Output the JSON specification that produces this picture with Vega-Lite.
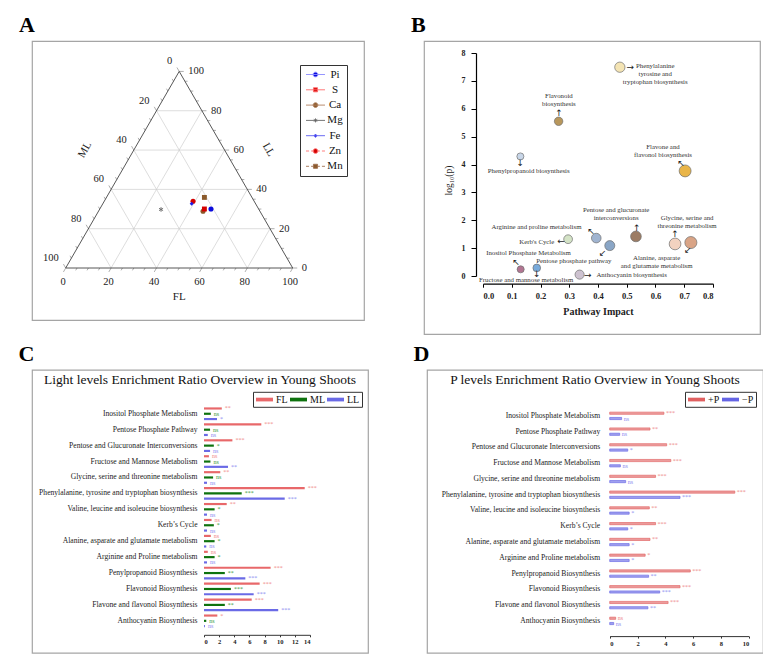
{
  "$schema": "https://vega.github.io/schema/vega-lite/v6.json",
  "padding": {"left": 18, "top": 12, "right": 0, "bottom": 0},
  "background": "white",
  "config": {
    "view": {"stroke": "#a5a5a5", "strokeWidth": 1.2},
    "axis": {"grid": false, "labelOverlap": false},
    "font": "Liberation Serif"
  },
  "spacing": 6.8,
  "resolve": {
    "scale": {"color": "independent", "fill": "independent", "stroke": "independent", "shape": "independent", "size": "independent"},
    "legend": {"color": "independent", "fill": "independent", "stroke": "independent", "shape": "independent", "size": "independent"}
  },
  "vconcat": [
    {
      "spacing": 45,
      "resolve": {
        "scale": {"color": "independent", "fill": "independent", "stroke": "independent", "shape": "independent", "size": "independent"},
        "legend": {"color": "independent", "fill": "independent", "stroke": "independent", "shape": "independent", "size": "independent"}
      },
      "hconcat": [
        {
          "title": {"text": "A", "anchor": "start", "frame": "group", "dx": -13, "offset": -12.5, "baseline": "alphabetic", "font": "Liberation Serif", "fontSize": 22, "fontWeight": "bold", "color": "#000"},
          "width": 332,
          "height": 279,
          "layer": [
            {
              "data": {"name": "gridA"},
              "mark": {"type": "rule", "color": "#cfcfcf", "strokeWidth": 0.7},
              "encoding": {
                "x": {"field": "x", "type": "quantitative", "scale": {"domain": [-14.85, 131.41], "nice": false, "zero": false}, "axis": null},
                "y": {"field": "y", "type": "quantitative", "scale": {"domain": [-22.9, 100], "nice": false, "zero": false}, "axis": null},
                "x2": {"field": "x2"},
                "y2": {"field": "y2"}
              }
            },
            {
              "data": {"name": "ticksA"},
              "mark": {"type": "rule", "color": "#777777", "strokeWidth": 0.6},
              "encoding": {
                "x": {"field": "x", "type": "quantitative"},
                "y": {"field": "y", "type": "quantitative"},
                "x2": {"field": "x2"},
                "y2": {"field": "y2"}
              }
            },
            {
              "data": {"name": "edgesA"},
              "mark": {"type": "rule", "color": "#444444", "strokeWidth": 0.9},
              "encoding": {
                "x": {"field": "x", "type": "quantitative"},
                "y": {"field": "y", "type": "quantitative"},
                "x2": {"field": "x2"},
                "y2": {"field": "y2"}
              }
            },
            {
              "data": {"name": "botA"},
              "mark": {"type": "text", "dx": -2.5, "dy": 14, "align": "center", "baseline": "middle", "font": "Liberation Serif", "fontSize": 10.5, "color": "#222"},
              "encoding": {
                "x": {"field": "x", "type": "quantitative"},
                "y": {"field": "y", "type": "quantitative"},
                "text": {"field": "t", "type": "nominal"}
              }
            },
            {
              "data": {"name": "leftA"},
              "mark": {"type": "text", "dx": -7, "dy": -10, "align": "right", "baseline": "middle", "font": "Liberation Serif", "fontSize": 10.5, "color": "#222"},
              "encoding": {
                "x": {"field": "x", "type": "quantitative"},
                "y": {"field": "y", "type": "quantitative"},
                "text": {"field": "t", "type": "nominal"}
              }
            },
            {
              "data": {"name": "rightA"},
              "mark": {"type": "text", "dx": 9, "dy": 0, "align": "left", "baseline": "middle", "font": "Liberation Serif", "fontSize": 10.5, "color": "#222"},
              "encoding": {
                "x": {"field": "x", "type": "quantitative"},
                "y": {"field": "y", "type": "quantitative"},
                "text": {"field": "t", "type": "nominal"}
              }
            },
            {
              "data": {"values": [{}]},
              "mark": {"type": "text", "text": "FL", "align": "center", "baseline": "middle", "font": "Liberation Serif", "fontSize": 11, "color": "#222"},
              "encoding": {"x": {"datum": 50}, "y": {"datum": -12.9}}
            },
            {
              "data": {"values": [{}]},
              "mark": {"type": "text", "text": "ML", "angle": -60, "align": "center", "baseline": "middle", "font": "Liberation Serif", "fontSize": 11, "color": "#222"},
              "encoding": {"x": {"datum": 8.5}, "y": {"datum": 52.1}}
            },
            {
              "data": {"values": [{}]},
              "mark": {"type": "text", "text": "LL", "angle": 60, "align": "center", "baseline": "middle", "font": "Liberation Serif", "fontSize": 11, "color": "#222"},
              "encoding": {"x": {"datum": 89.3}, "y": {"datum": 52.1}}
            },
            {
              "data": {"name": "ptsA"},
              "transform": [{"filter": {"field": "el", "oneOf": ["Pi", "Ca", "Zn"]}}],
              "mark": {"type": "point", "shape": "circle", "filled": true, "opacity": 1, "size": 26},
              "encoding": {
                "x": {"field": "x", "type": "quantitative"},
                "y": {"field": "y", "type": "quantitative"},
                "color": {
                  "field": "el", "type": "nominal",
                  "scale": {"domain": ["Pi", "S", "Ca", "Mg", "Fe", "Zn", "Mn"], "range": ["#0b0bdd", "#d40000", "#8b5a2b", "#666666", "#1a1ae6", "#d40000", "#8b5a2b"]},
                  "legend": {
                    "title": null, "orient": "none", "legendX": 268, "legendY": 24,
                    "strokeColor": "#333333", "fillColor": "white", "padding": 4,
                    "labelFont": "Liberation Serif", "labelFontSize": 11, "labelColor": "#111", "labelAlign": "center",
                    "symbolSize": 46, "symbolOffset": 6, "labelOffset": 14, "rowPadding": 3.3,
                    "symbolOpacity": 1,
                    "encode": {
                      "symbols": {
                        "update": {
                          "shape": {"signal": "{'Pi':'M-2.8,0H2.8M0.7,0A0.7,0.7,0,1,1,-0.7,0A0.7,0.7,0,1,1,0.7,0Z','S':'M-2.8,0H2.8M-0.6,-0.6H0.6V0.6H-0.6Z','Ca':'M-2.8,0H2.8M0.7,0A0.7,0.7,0,1,1,-0.7,0A0.7,0.7,0,1,1,0.7,0Z','Mg':'M-2.8,0H2.8M0,-0.6V0.6M-0.52,-0.3L0.52,0.3M-0.52,0.3L0.52,-0.3','Fe':'M-2.8,0H2.8M0,-0.5L0.4,0L0,0.5L-0.4,0Z','Zn':'M-2.8,0H-1.9M-1.3,0H-0.4M0.4,0H1.3M1.9,0H2.8M0.7,0A0.7,0.7,0,1,1,-0.7,0A0.7,0.7,0,1,1,0.7,0Z','Mn':'M-2.8,0H-1.9M-1.3,0H-0.4M0.4,0H1.3M1.9,0H2.8M-0.6,-0.6H0.6V0.6H-0.6Z'}[datum.value]"},
                          "stroke": {"signal": "{'Pi':'#8a8aff','S':'#ff6a6a','Ca':'#b08060','Mg':'#666666','Fe':'#5a5af0','Zn':'#ff7070','Mn':'#a07050'}[datum.value]"},
                          "strokeWidth": {"value": 0.9}
                        }
                      }
                    }
                  }
                }
              }
            },
            {
              "data": {"name": "ptsA"},
              "transform": [{"filter": {"field": "el", "oneOf": ["S", "Mn"]}}],
              "mark": {"type": "point", "shape": "square", "filled": true, "opacity": 1, "size": 24},
              "encoding": {
                "x": {"field": "x", "type": "quantitative"},
                "y": {"field": "y", "type": "quantitative"},
                "color": {"field": "el", "type": "nominal"}
              }
            },
            {
              "data": {"name": "ptsA"},
              "transform": [{"filter": {"field": "el", "equal": "Mg"}}],
              "mark": {"type": "point", "shape": "M0,-1V1M-0.87,-0.5L0.87,0.5M-0.87,0.5L0.87,-0.5", "filled": true, "opacity": 1, "size": 22, "stroke": "#666666", "strokeWidth": 0.9},
              "encoding": {
                "x": {"field": "x", "type": "quantitative"},
                "y": {"field": "y", "type": "quantitative"},
                "color": {"field": "el", "type": "nominal"}
              }
            },
            {
              "data": {"name": "ptsA"},
              "transform": [{"filter": {"field": "el", "equal": "Fe"}}],
              "mark": {"type": "point", "shape": "diamond", "filled": true, "opacity": 1, "size": 16},
              "encoding": {
                "x": {"field": "x", "type": "quantitative"},
                "y": {"field": "y", "type": "quantitative"},
                "color": {"field": "el", "type": "nominal"}
              }
            }
          ]
        },
        {
          "title": {"text": "B", "anchor": "start", "frame": "group", "dx": -13, "offset": -12.5, "baseline": "alphabetic", "font": "Liberation Serif", "fontSize": 22, "fontWeight": "bold", "color": "#000"},
          "width": 336,
          "height": 293,
          "layer": [
            {
              "data": {"name": "ptsB"},
              "mark": {"type": "point", "filled": true, "opacity": 1, "stroke": "#707070", "strokeWidth": 0.7},
              "encoding": {
                "x": {
                  "field": "impact", "type": "quantitative",
                  "scale": {"domain": [0, 0.8], "range": [59, 289], "nice": false, "zero": false},
                  "axis": {"values": [0, 0.1, 0.2, 0.3, 0.4, 0.5, 0.6, 0.7, 0.8], "format": ".1f", "offset": -50.3, "labelOverlap": false, "domainColor": "#000", "domainWidth": 1.2, "tickColor": "#000", "tickSize": 3.5, "labelFont": "Liberation Serif", "labelFontSize": 8.5, "labelFontWeight": "bold", "labelColor": "#222", "labelPadding": 4, "title": "Pathway Impact", "titleFont": "Liberation Serif", "titleFontSize": 10, "titleFontWeight": "bold", "titleColor": "#222", "titlePadding": 7}
                },
                "y": {
                  "field": "logp", "type": "quantitative",
                  "scale": {"domain": [0, 8], "range": [235, 12], "nice": false, "zero": false},
                  "axis": {"values": [0, 1, 2, 3, 4, 5, 6, 7, 8], "tickCount": 9, "format": "d", "offset": -52, "labelOverlap": false, "domainColor": "#000", "domainWidth": 1.2, "tickColor": "#000", "tickSize": 5, "labelAlign": "right", "labelBaseline": "middle", "labelPadding": 6, "labelFont": "Liberation Serif", "labelFontSize": 8, "labelFontWeight": "bold", "labelColor": "#222", "title": "log₁₀(p)", "titleFont": "Liberation Serif", "titleFontSize": 9.5, "titleFontWeight": "normal", "titleColor": "#222", "titlePadding": 8, "titleY": 139}
                },
                "size": {"field": "impact", "type": "quantitative", "scale": {"domain": [0.1, 0.75], "range": [45, 150]}, "legend": null},
                "color": {
                  "field": "pathway", "type": "nominal",
                  "scale": {
                    "domain": ["Phenylalanine, tyrosine and tryptophan biosynthesis", "Flavonoid biosynthesis", "Phenylpropanoid biosynthesis", "Flavone and flavonol biosynthesis", "Pentose and glucuronate interconversions", "Glycine, serine and threonine metabolism", "Alanine, asparate and glutamate metabolism", "Arginine and proline metabolism", "Pentose phosphate pathway", "Kerb's Cycle", "Inositol Phosphate Metabolism", "Fructose and mannose metabolism", "Anthocyanin biosynthesis"],
                    "range": ["#f4e4b4", "#b8975c", "#c8d6e8", "#e9b548", "#9c7c64", "#f2d2c0", "#d9a486", "#a0b4d0", "#8aa6c6", "#d4e3c6", "#b27592", "#78aadb", "#cdc2d0"]
                  },
                  "legend": null
                }
              }
            },
            {
              "data": {"name": "labB"},
              "mark": {"type": "text", "lineBreak": "\n", "lineHeight": 8, "font": "Liberation Serif", "fontSize": 6.8, "color": "#333", "align": "center", "baseline": "middle"},
              "encoding": {
                "x": {"field": "lx", "type": "quantitative"},
                "y": {"field": "ly", "type": "quantitative"},
                "text": {"field": "label", "type": "nominal"}
              }
            },
            {
              "data": {"name": "arrB"},
              "mark": {"type": "text", "font": "DejaVu Sans", "fontSize": 9, "color": "#222", "align": "center", "baseline": "middle"},
              "encoding": {
                "x": {"field": "ax", "type": "quantitative"},
                "y": {"field": "ay", "type": "quantitative"},
                "text": {"field": "arrow", "type": "nominal"}
              }
            }
          ]
        }
      ]
    },
    {
      "spacing": 44,
      "resolve": {
        "scale": {"color": "independent", "fill": "independent", "stroke": "independent", "shape": "independent", "size": "independent"},
        "legend": {"color": "independent", "fill": "independent", "stroke": "independent", "shape": "independent", "size": "independent"}
      },
      "hconcat": [
        {
          "title": {"text": "C", "anchor": "start", "dx": -13, "offset": -13.3, "baseline": "alphabetic", "font": "Liberation Serif", "fontSize": 22, "fontWeight": "bold", "color": "#000"},
          "vconcat": [
            {
              "title": {"text": "Light levels Enrichment Ratio Overview in Young Shoots", "anchor": "middle", "frame": "group", "offset": 0, "dy": 27.2, "baseline": "alphabetic", "font": "Liberation Serif", "fontSize": 13.5, "fontWeight": "normal", "color": "#111"},
              "width": 336,
              "height": 283,
              "data": {"name": "dataC"},
              "layer": [
                {
                  "mark": {"type": "bar"},
                  "encoding": {
                    "y": {"field": "p", "type": "nominal", "sort": ["Inositol Phosphate Metabolism", "Pentose Phosphate Pathway", "Pentose and Glucuronate Interconversions", "Fructose and Mannose Metabolism", "Glycine, serine and threonine metabolism", "Phenylalanine, tyrosine and tryptophan biosynthesis", "Valine, leucine and isoleucine biosynthesis", "Kerb’s Cycle", "Alanine, asparate and glutamate metabolism", "Arginine and Proline metabolism", "Penylpropanoid Biosynthesis", "Flavonoid Biosynthesis", "Flavone and flavonol Biosynthesis", "Anthocyanin Biosynthesis"], "scale": {"range": [36, 259], "paddingInner": 0, "paddingOuter": 0}, "axis": {"orient": "left", "offset": -172, "domain": false, "ticks": false, "labelPadding": 7, "labelFont": "Liberation Serif", "labelFontSize": 7.6, "labelColor": "#222", "labelLimit": 400, "title": null}},
                    "yOffset": {"field": "s", "type": "nominal", "sort": ["FL", "ML", "LL"], "scale": {"paddingInner": 0.18, "paddingOuter": 0.6}},
                    "x": {"field": "v", "type": "quantitative", "scale": {"domain": [0, 14], "range": [172, 278], "nice": false, "zero": false}, "axis": {"values": [0, 2, 4, 6, 8, 10, 12, 14], "offset": -18, "labelOverlap": false, "domainColor": "#333", "tickColor": "#333", "tickSize": 2, "labelFont": "Liberation Serif", "labelFontSize": 6.5, "labelFontWeight": "bold", "labelColor": "#222", "labelPadding": 2, "title": null}},
                    "color": {
                      "field": "s", "type": "nominal",
                      "scale": {"domain": ["FL", "ML", "LL"], "range": ["#e8686a", "#0e720e", "#6a6ae6"]},
                      "legend": {"title": null, "orient": "none", "legendX": 221, "legendY": 22, "direction": "horizontal", "strokeColor": "#333", "fillColor": "white", "padding": 2, "symbolType": "M-1.6,-0.35H1.6V0.35H-1.6Z", "symbolSize": 113, "symbolStrokeWidth": 0, "symbolOffset": 4, "labelOffset": 6, "columnPadding": 1, "labelFont": "Liberation Serif", "labelFontSize": 10, "labelColor": "#111"}
                    }
                  }
                },
                {
                  "mark": {"type": "text", "align": "left", "baseline": "middle", "dx": 3, "font": "Liberation Serif", "fontSize": 6},
                  "encoding": {
                    "y": {"field": "p", "type": "nominal", "sort": ["Inositol Phosphate Metabolism", "Pentose Phosphate Pathway", "Pentose and Glucuronate Interconversions", "Fructose and Mannose Metabolism", "Glycine, serine and threonine metabolism", "Phenylalanine, tyrosine and tryptophan biosynthesis", "Valine, leucine and isoleucine biosynthesis", "Kerb’s Cycle", "Alanine, asparate and glutamate metabolism", "Arginine and Proline metabolism", "Penylpropanoid Biosynthesis", "Flavonoid Biosynthesis", "Flavone and flavonol Biosynthesis", "Anthocyanin Biosynthesis"]},
                    "yOffset": {"field": "s", "type": "nominal", "sort": ["FL", "ML", "LL"]},
                    "x": {"field": "v", "type": "quantitative"},
                    "text": {"field": "sig", "type": "nominal"},
                    "fill": {"field": "s", "type": "nominal", "scale": {"domain": ["FL", "ML", "LL"], "range": ["#f08a8a", "#3c9a3c", "#8a8af0"]}, "legend": null}
                  }
                }
              ]
            }
          ]
        },
        {
          "title": {"text": "D", "anchor": "start", "dx": -13, "offset": -13.3, "baseline": "alphabetic", "font": "Liberation Serif", "fontSize": 22, "fontWeight": "bold", "color": "#000"},
          "vconcat": [
            {
              "title": {"text": "P levels Enrichment Ratio Overview in Young Shoots", "anchor": "middle", "frame": "group", "offset": 0, "dy": 27.2, "baseline": "alphabetic", "font": "Liberation Serif", "fontSize": 13.5, "fontWeight": "normal", "color": "#111"},
              "width": 336,
              "height": 283,
              "data": {"name": "dataD"},
              "layer": [
                {
                  "mark": {"type": "bar", "fillOpacity": 0.62, "strokeWidth": 0.7},
                  "encoding": {
                    "y": {"field": "p", "type": "nominal", "sort": ["Inositol Phosphate Metabolism", "Pentose Phosphate Pathway", "Pentose and Glucuronate Interconversions", "Fructose and Mannose Metabolism", "Glycine, serine and threonine metabolism", "Phenylalanine, tyrosine and tryptophan biosynthesis", "Valine, leucine and isoleucine biosynthesis", "Kerb’s Cycle", "Alanine, asparate and glutamate metabolism", "Arginine and Proline metabolism", "Penylpropanoid Biosynthesis", "Flavonoid Biosynthesis", "Flavone and flavonol Biosynthesis", "Anthocyanin Biosynthesis"], "scale": {"range": [38.1, 258.9], "paddingInner": 0, "paddingOuter": 0}, "axis": {"orient": "left", "offset": -182.7, "domain": false, "ticks": false, "labelPadding": 10, "labelFont": "Liberation Serif", "labelFontSize": 7.6, "labelColor": "#222", "labelLimit": 400, "title": null}},
                    "yOffset": {"field": "s", "type": "nominal", "sort": ["+P", "−P"], "scale": {"paddingInner": 0.25, "paddingOuter": 0.5}},
                    "x": {"field": "v", "type": "quantitative", "scale": {"domain": [0, 10], "range": [182.7, 321.7], "nice": false, "zero": false}, "axis": {"values": [0, 1, 2, 3, 4, 5, 6, 7, 8, 9, 10], "offset": -16.7, "labelOverlap": false, "domainColor": "#333", "tickColor": "#333", "tickSize": 2, "labelFont": "Liberation Serif", "labelFontSize": 6.5, "labelFontWeight": "bold", "labelColor": "#222", "labelPadding": 2, "title": null}},
                    "color": {
                      "field": "s", "type": "nominal",
                      "scale": {"domain": ["+P", "−P"], "range": ["#e06060", "#6464e4"]},
                      "legend": {"title": null, "orient": "none", "legendX": 258, "legendY": 22, "direction": "horizontal", "strokeColor": "#333", "fillColor": "white", "padding": 2, "symbolType": "M-1.6,-0.35H1.6V0.35H-1.6Z", "symbolSize": 113, "symbolStrokeWidth": 0, "symbolOpacity": 1, "symbolOffset": 4, "labelOffset": 6, "columnPadding": 1, "labelFont": "Liberation Serif", "labelFontSize": 10, "labelColor": "#111"}
                    },
                    "stroke": {"field": "s", "type": "nominal", "scale": {"domain": ["+P", "−P"], "range": ["#e36a6a", "#7070e6"]}, "legend": null}
                  }
                },
                {
                  "mark": {"type": "text", "align": "left", "baseline": "middle", "dx": 2, "font": "Liberation Serif", "fontSize": 6},
                  "encoding": {
                    "y": {"field": "p", "type": "nominal", "sort": ["Inositol Phosphate Metabolism", "Pentose Phosphate Pathway", "Pentose and Glucuronate Interconversions", "Fructose and Mannose Metabolism", "Glycine, serine and threonine metabolism", "Phenylalanine, tyrosine and tryptophan biosynthesis", "Valine, leucine and isoleucine biosynthesis", "Kerb’s Cycle", "Alanine, asparate and glutamate metabolism", "Arginine and Proline metabolism", "Penylpropanoid Biosynthesis", "Flavonoid Biosynthesis", "Flavone and flavonol Biosynthesis", "Anthocyanin Biosynthesis"]},
                    "yOffset": {"field": "s", "type": "nominal", "sort": ["+P", "−P"]},
                    "x": {"field": "v", "type": "quantitative"},
                    "text": {"field": "sig", "type": "nominal"},
                    "fill": {"field": "s", "type": "nominal", "scale": {"domain": ["+P", "−P"], "range": ["#ee8a8a", "#8c8cf0"]}, "legend": null}
                  }
                }
              ]
            }
          ]
        }
      ]
    }
  ],
  "datasets": {
    "gridA": [
      {"x": 10, "y": 17.32, "x2": 90, "y2": 17.32},
      {"x": 20, "y": 34.64, "x2": 80, "y2": 34.64},
      {"x": 30, "y": 51.96, "x2": 70, "y2": 51.96},
      {"x": 40, "y": 69.28, "x2": 60, "y2": 69.28},
      {"x": 20, "y": 0, "x2": 60, "y2": 69.28},
      {"x": 40, "y": 0, "x2": 70, "y2": 51.96},
      {"x": 60, "y": 0, "x2": 80, "y2": 34.64},
      {"x": 80, "y": 0, "x2": 90, "y2": 17.32},
      {"x": 80, "y": 0, "x2": 40, "y2": 69.28},
      {"x": 60, "y": 0, "x2": 30, "y2": 51.96},
      {"x": 40, "y": 0, "x2": 20, "y2": 34.64},
      {"x": 20, "y": 0, "x2": 10, "y2": 17.32}
    ],
    "ticksA": [
      {"x": 0, "y": 0, "x2": -1, "y2": -1.73},
      {"x": 5, "y": 0, "x2": 4.4, "y2": -1.04},
      {"x": 10, "y": 0, "x2": 9.4, "y2": -1.04},
      {"x": 15, "y": 0, "x2": 14.4, "y2": -1.04},
      {"x": 20, "y": 0, "x2": 19, "y2": -1.73},
      {"x": 25, "y": 0, "x2": 24.4, "y2": -1.04},
      {"x": 30, "y": 0, "x2": 29.4, "y2": -1.04},
      {"x": 35, "y": 0, "x2": 34.4, "y2": -1.04},
      {"x": 40, "y": 0, "x2": 39, "y2": -1.73},
      {"x": 45, "y": 0, "x2": 44.4, "y2": -1.04},
      {"x": 50, "y": 0, "x2": 49.4, "y2": -1.04},
      {"x": 55, "y": 0, "x2": 54.4, "y2": -1.04},
      {"x": 60, "y": 0, "x2": 59, "y2": -1.73},
      {"x": 65, "y": 0, "x2": 64.4, "y2": -1.04},
      {"x": 70, "y": 0, "x2": 69.4, "y2": -1.04},
      {"x": 75, "y": 0, "x2": 74.4, "y2": -1.04},
      {"x": 80, "y": 0, "x2": 79, "y2": -1.73},
      {"x": 85, "y": 0, "x2": 84.4, "y2": -1.04},
      {"x": 90, "y": 0, "x2": 89.4, "y2": -1.04},
      {"x": 95, "y": 0, "x2": 94.4, "y2": -1.04},
      {"x": 100, "y": 0, "x2": 99, "y2": -1.73},
      {"x": 100, "y": 0, "x2": 102, "y2": 0},
      {"x": 97.5, "y": 4.33, "x2": 98.7, "y2": 4.33},
      {"x": 95, "y": 8.66, "x2": 96.2, "y2": 8.66},
      {"x": 92.5, "y": 12.99, "x2": 93.7, "y2": 12.99},
      {"x": 90, "y": 17.32, "x2": 92, "y2": 17.32},
      {"x": 87.5, "y": 21.65, "x2": 88.7, "y2": 21.65},
      {"x": 85, "y": 25.98, "x2": 86.2, "y2": 25.98},
      {"x": 82.5, "y": 30.31, "x2": 83.7, "y2": 30.31},
      {"x": 80, "y": 34.64, "x2": 82, "y2": 34.64},
      {"x": 77.5, "y": 38.97, "x2": 78.7, "y2": 38.97},
      {"x": 75, "y": 43.3, "x2": 76.2, "y2": 43.3},
      {"x": 72.5, "y": 47.63, "x2": 73.7, "y2": 47.63},
      {"x": 70, "y": 51.96, "x2": 72, "y2": 51.96},
      {"x": 67.5, "y": 56.29, "x2": 68.7, "y2": 56.29},
      {"x": 65, "y": 60.62, "x2": 66.2, "y2": 60.62},
      {"x": 62.5, "y": 64.95, "x2": 63.7, "y2": 64.95},
      {"x": 60, "y": 69.28, "x2": 62, "y2": 69.28},
      {"x": 57.5, "y": 73.61, "x2": 58.7, "y2": 73.61},
      {"x": 55, "y": 77.94, "x2": 56.2, "y2": 77.94},
      {"x": 52.5, "y": 82.27, "x2": 53.7, "y2": 82.27},
      {"x": 50, "y": 86.6, "x2": 52, "y2": 86.6},
      {"x": 50, "y": 86.6, "x2": 49, "y2": 88.33},
      {"x": 47.5, "y": 82.27, "x2": 46.9, "y2": 83.31},
      {"x": 45, "y": 77.94, "x2": 44.4, "y2": 78.98},
      {"x": 42.5, "y": 73.61, "x2": 41.9, "y2": 74.65},
      {"x": 40, "y": 69.28, "x2": 39, "y2": 71.01},
      {"x": 37.5, "y": 64.95, "x2": 36.9, "y2": 65.99},
      {"x": 35, "y": 60.62, "x2": 34.4, "y2": 61.66},
      {"x": 32.5, "y": 56.29, "x2": 31.9, "y2": 57.33},
      {"x": 30, "y": 51.96, "x2": 29, "y2": 53.69},
      {"x": 27.5, "y": 47.63, "x2": 26.9, "y2": 48.67},
      {"x": 25, "y": 43.3, "x2": 24.4, "y2": 44.34},
      {"x": 22.5, "y": 38.97, "x2": 21.9, "y2": 40.01},
      {"x": 20, "y": 34.64, "x2": 19, "y2": 36.37},
      {"x": 17.5, "y": 30.31, "x2": 16.9, "y2": 31.35},
      {"x": 15, "y": 25.98, "x2": 14.4, "y2": 27.02},
      {"x": 12.5, "y": 21.65, "x2": 11.9, "y2": 22.69},
      {"x": 10, "y": 17.32, "x2": 9, "y2": 19.05},
      {"x": 7.5, "y": 12.99, "x2": 6.9, "y2": 14.03},
      {"x": 5, "y": 8.66, "x2": 4.4, "y2": 9.7},
      {"x": 2.5, "y": 4.33, "x2": 1.9, "y2": 5.37},
      {"x": 0, "y": 0, "x2": -1, "y2": 1.73}
    ],
    "edgesA": [
      {"x": 0, "y": 0, "x2": 100, "y2": 0},
      {"x": 0, "y": 0, "x2": 50, "y2": 86.6},
      {"x": 100, "y": 0, "x2": 50, "y2": 86.6}
    ],
    "botA": [
      {"x": 0, "y": 0, "t": "0"}, {"x": 20, "y": 0, "t": "20"}, {"x": 40, "y": 0, "t": "40"},
      {"x": 60, "y": 0, "t": "60"}, {"x": 80, "y": 0, "t": "80"}, {"x": 100, "y": 0, "t": "100"}
    ],
    "leftA": [
      {"x": 50, "y": 86.6, "t": "0"}, {"x": 40, "y": 69.28, "t": "20"}, {"x": 30, "y": 51.96, "t": "40"},
      {"x": 20, "y": 34.64, "t": "60"}, {"x": 10, "y": 17.32, "t": "80"}, {"x": 0, "y": 0, "t": "100"}
    ],
    "rightA": [
      {"x": 100, "y": 0, "t": "0"}, {"x": 90, "y": 17.32, "t": "20"}, {"x": 80, "y": 34.64, "t": "40"},
      {"x": 70, "y": 51.96, "t": "60"}, {"x": 60, "y": 69.28, "t": "80"}, {"x": 50, "y": 86.6, "t": "100"}
    ],
    "ptsA": [
      {"el": "Pi", "x": 64.0, "y": 26.0},
      {"el": "S", "x": 61.1, "y": 26.0},
      {"el": "Ca", "x": 60.5, "y": 25.0},
      {"el": "Mg", "x": 42.0, "y": 25.8},
      {"el": "Fe", "x": 55.5, "y": 28.3},
      {"el": "Zn", "x": 56.1, "y": 29.4},
      {"el": "Mn", "x": 61.1, "y": 31.1}
    ],
    "ptsB": [
      {"pathway": "Phenylalanine, tyrosine and tryptophan biosynthesis", "impact": 0.476, "logp": 7.49},
      {"pathway": "Flavonoid biosynthesis", "impact": 0.263, "logp": 5.55},
      {"pathway": "Phenylpropanoid biosynthesis", "impact": 0.13, "logp": 4.29},
      {"pathway": "Flavone and flavonol biosynthesis", "impact": 0.703, "logp": 3.77},
      {"pathway": "Pentose and glucuronate interconversions", "impact": 0.532, "logp": 1.42},
      {"pathway": "Glycine, serine and threonine metabolism", "impact": 0.668, "logp": 1.15},
      {"pathway": "Alanine, asparate and glutamate metabolism", "impact": 0.723, "logp": 1.2},
      {"pathway": "Arginine and proline metabolism", "impact": 0.394, "logp": 1.36},
      {"pathway": "Pentose phosphate pathway", "impact": 0.441, "logp": 1.09},
      {"pathway": "Kerb's Cycle", "impact": 0.296, "logp": 1.32},
      {"pathway": "Inositol Phosphate Metabolism", "impact": 0.131, "logp": 0.24},
      {"pathway": "Fructose and mannose metabolism", "impact": 0.187, "logp": 0.29},
      {"pathway": "Anthocyanin biosynthesis", "impact": 0.336, "logp": 0.05}
    ],
    "labB": [
      {"label": "Phenylalanine\ntyrosine and\ntryptophan biosynthesis", "lx": 0.599, "ly": 7.52},
      {"label": "Flavonoid\nbiosynthesis", "lx": 0.264, "ly": 6.46},
      {"label": "Phenylpropanoid biosynthesis", "lx": 0.159, "ly": 3.78},
      {"label": "Flavone and\nflavonol biosynthesis", "lx": 0.626, "ly": 4.62},
      {"label": "Pentose and glucuronate\ninterconversions", "lx": 0.463, "ly": 2.37},
      {"label": "Glycine, serine and\nthreonine metabolism", "lx": 0.71, "ly": 2.07},
      {"label": "Arginine and proline metabolism", "lx": 0.186, "ly": 1.76},
      {"label": "Kerb's Cycle", "lx": 0.187, "ly": 1.23},
      {"label": "Alanine, asparate\nand glutamate metabolism", "lx": 0.604, "ly": 0.66},
      {"label": "Pentose phosphate pathway", "lx": 0.316, "ly": 0.53},
      {"label": "Inositol Phosphate Metabolism", "lx": 0.158, "ly": 0.81},
      {"label": "Fructose and mannose metabolism", "lx": 0.15, "ly": -0.13},
      {"label": "Anthocyanin biosynthesis", "lx": 0.517, "ly": 0.02}
    ],
    "arrB": [
      {"arrow": "→", "ax": 0.512, "ay": 7.49},
      {"arrow": "↑", "ax": 0.264, "ay": 5.85},
      {"arrow": "↓", "ax": 0.13, "ay": 4.05},
      {"arrow": "↖", "ax": 0.689, "ay": 4.04},
      {"arrow": "↑", "ax": 0.535, "ay": 1.73},
      {"arrow": "↑", "ax": 0.668, "ay": 1.5},
      {"arrow": "↖", "ax": 0.376, "ay": 1.6},
      {"arrow": "←", "ax": 0.271, "ay": 1.26},
      {"arrow": "↙", "ax": 0.712, "ay": 0.92},
      {"arrow": "↙", "ax": 0.416, "ay": 0.84},
      {"arrow": "↖", "ax": 0.115, "ay": 0.5},
      {"arrow": "↓", "ax": 0.187, "ay": 0.08},
      {"arrow": "→", "ax": 0.364, "ay": 0.02}
    ],
    "dataC": [
      {"p": "Inositol Phosphate Metabolism", "s": "FL", "v": 2.35, "sig": "**"},
      {"p": "Inositol Phosphate Metabolism", "s": "ML", "v": 0.9, "sig": "ns"},
      {"p": "Inositol Phosphate Metabolism", "s": "LL", "v": 1.72, "sig": "*"},
      {"p": "Pentose Phosphate Pathway", "s": "FL", "v": 7.57, "sig": "***"},
      {"p": "Pentose Phosphate Pathway", "s": "ML", "v": 0.8, "sig": "ns"},
      {"p": "Pentose Phosphate Pathway", "s": "LL", "v": 0.5, "sig": "ns"},
      {"p": "Pentose and Glucuronate Interconversions", "s": "FL", "v": 3.75, "sig": "***"},
      {"p": "Pentose and Glucuronate Interconversions", "s": "ML", "v": 1.3, "sig": "*"},
      {"p": "Pentose and Glucuronate Interconversions", "s": "LL", "v": 0.8, "sig": "ns"},
      {"p": "Fructose and Mannose Metabolism", "s": "FL", "v": 0.65, "sig": "ns"},
      {"p": "Fructose and Mannose Metabolism", "s": "ML", "v": 0.85, "sig": "ns"},
      {"p": "Fructose and Mannose Metabolism", "s": "LL", "v": 3.17, "sig": "**"},
      {"p": "Glycine, serine and threonine metabolism", "s": "FL", "v": 2.15, "sig": "**"},
      {"p": "Glycine, serine and threonine metabolism", "s": "ML", "v": 1.2, "sig": "ns"},
      {"p": "Glycine, serine and threonine metabolism", "s": "LL", "v": 0.4, "sig": "ns"},
      {"p": "Phenylalanine, tyrosine and tryptophan biosynthesis", "s": "FL", "v": 13.3, "sig": "***"},
      {"p": "Phenylalanine, tyrosine and tryptophan biosynthesis", "s": "ML", "v": 4.98, "sig": "***"},
      {"p": "Phenylalanine, tyrosine and tryptophan biosynthesis", "s": "LL", "v": 10.66, "sig": "***"},
      {"p": "Valine, leucine and isoleucine biosynthesis", "s": "FL", "v": 3.0, "sig": "**"},
      {"p": "Valine, leucine and isoleucine biosynthesis", "s": "ML", "v": 1.4, "sig": "*"},
      {"p": "Valine, leucine and isoleucine biosynthesis", "s": "LL", "v": 0.4, "sig": "ns"},
      {"p": "Kerb’s Cycle", "s": "FL", "v": 1.0, "sig": "ns"},
      {"p": "Kerb’s Cycle", "s": "ML", "v": 1.3, "sig": "*"},
      {"p": "Kerb’s Cycle", "s": "LL", "v": 0.4, "sig": "ns"},
      {"p": "Alanine, asparate and glutamate metabolism", "s": "FL", "v": 0.9, "sig": "ns"},
      {"p": "Alanine, asparate and glutamate metabolism", "s": "ML", "v": 1.4, "sig": "*"},
      {"p": "Alanine, asparate and glutamate metabolism", "s": "LL", "v": 0.3, "sig": "ns"},
      {"p": "Arginine and Proline metabolism", "s": "FL", "v": 0.5, "sig": "ns"},
      {"p": "Arginine and Proline metabolism", "s": "ML", "v": 1.4, "sig": "*"},
      {"p": "Arginine and Proline metabolism", "s": "LL", "v": 0.4, "sig": "ns"},
      {"p": "Penylpropanoid Biosynthesis", "s": "FL", "v": 8.8, "sig": "***"},
      {"p": "Penylpropanoid Biosynthesis", "s": "ML", "v": 2.75, "sig": "**"},
      {"p": "Penylpropanoid Biosynthesis", "s": "LL", "v": 5.46, "sig": "***"},
      {"p": "Flavonoid Biosynthesis", "s": "FL", "v": 7.35, "sig": "***"},
      {"p": "Flavonoid Biosynthesis", "s": "ML", "v": 3.55, "sig": "***"},
      {"p": "Flavonoid Biosynthesis", "s": "LL", "v": 6.56, "sig": "***"},
      {"p": "Flavone and flavonol Biosynthesis", "s": "FL", "v": 6.3, "sig": "***"},
      {"p": "Flavone and flavonol Biosynthesis", "s": "ML", "v": 2.75, "sig": "**"},
      {"p": "Flavone and flavonol Biosynthesis", "s": "LL", "v": 9.8, "sig": "***"},
      {"p": "Anthocyanin Biosynthesis", "s": "FL", "v": 1.76, "sig": "*"},
      {"p": "Anthocyanin Biosynthesis", "s": "ML", "v": 0.3, "sig": "ns"},
      {"p": "Anthocyanin Biosynthesis", "s": "LL", "v": 0.12, "sig": "ns"}
    ],
    "dataD": [
      {"p": "Inositol Phosphate Metabolism", "s": "+P", "v": 3.9, "sig": "***"},
      {"p": "Inositol Phosphate Metabolism", "s": "−P", "v": 0.86, "sig": "ns"},
      {"p": "Pentose Phosphate Pathway", "s": "+P", "v": 2.9, "sig": "**"},
      {"p": "Pentose Phosphate Pathway", "s": "−P", "v": 0.72, "sig": "ns"},
      {"p": "Pentose and Glucuronate Interconversions", "s": "+P", "v": 4.1, "sig": "***"},
      {"p": "Pentose and Glucuronate Interconversions", "s": "−P", "v": 1.3, "sig": "*"},
      {"p": "Fructose and Mannose Metabolism", "s": "+P", "v": 4.4, "sig": "***"},
      {"p": "Fructose and Mannose Metabolism", "s": "−P", "v": 0.77, "sig": "ns"},
      {"p": "Glycine, serine and threonine metabolism", "s": "+P", "v": 3.3, "sig": "***"},
      {"p": "Glycine, serine and threonine metabolism", "s": "−P", "v": 1.15, "sig": "ns"},
      {"p": "Phenylalanine, tyrosine and tryptophan biosynthesis", "s": "+P", "v": 9.0, "sig": "***"},
      {"p": "Phenylalanine, tyrosine and tryptophan biosynthesis", "s": "−P", "v": 5.06, "sig": "***"},
      {"p": "Valine, leucine and isoleucine biosynthesis", "s": "+P", "v": 2.85, "sig": "**"},
      {"p": "Valine, leucine and isoleucine biosynthesis", "s": "−P", "v": 1.4, "sig": "*"},
      {"p": "Kerb’s Cycle", "s": "+P", "v": 3.3, "sig": "***"},
      {"p": "Kerb’s Cycle", "s": "−P", "v": 1.3, "sig": "*"},
      {"p": "Alanine, asparate and glutamate metabolism", "s": "+P", "v": 2.9, "sig": "**"},
      {"p": "Alanine, asparate and glutamate metabolism", "s": "−P", "v": 1.4, "sig": "*"},
      {"p": "Arginine and Proline metabolism", "s": "+P", "v": 2.55, "sig": "*"},
      {"p": "Arginine and Proline metabolism", "s": "−P", "v": 1.4, "sig": "*"},
      {"p": "Penylpropanoid Biosynthesis", "s": "+P", "v": 5.8, "sig": "***"},
      {"p": "Penylpropanoid Biosynthesis", "s": "−P", "v": 2.8, "sig": "**"},
      {"p": "Flavonoid Biosynthesis", "s": "+P", "v": 5.06, "sig": "***"},
      {"p": "Flavonoid Biosynthesis", "s": "−P", "v": 3.6, "sig": "***"},
      {"p": "Flavone and flavonol Biosynthesis", "s": "+P", "v": 4.2, "sig": "***"},
      {"p": "Flavone and flavonol Biosynthesis", "s": "−P", "v": 2.75, "sig": "**"},
      {"p": "Anthocyanin Biosynthesis", "s": "+P", "v": 0.43, "sig": "ns"},
      {"p": "Anthocyanin Biosynthesis", "s": "−P", "v": 0.29, "sig": "ns"}
    ]
  }
}
